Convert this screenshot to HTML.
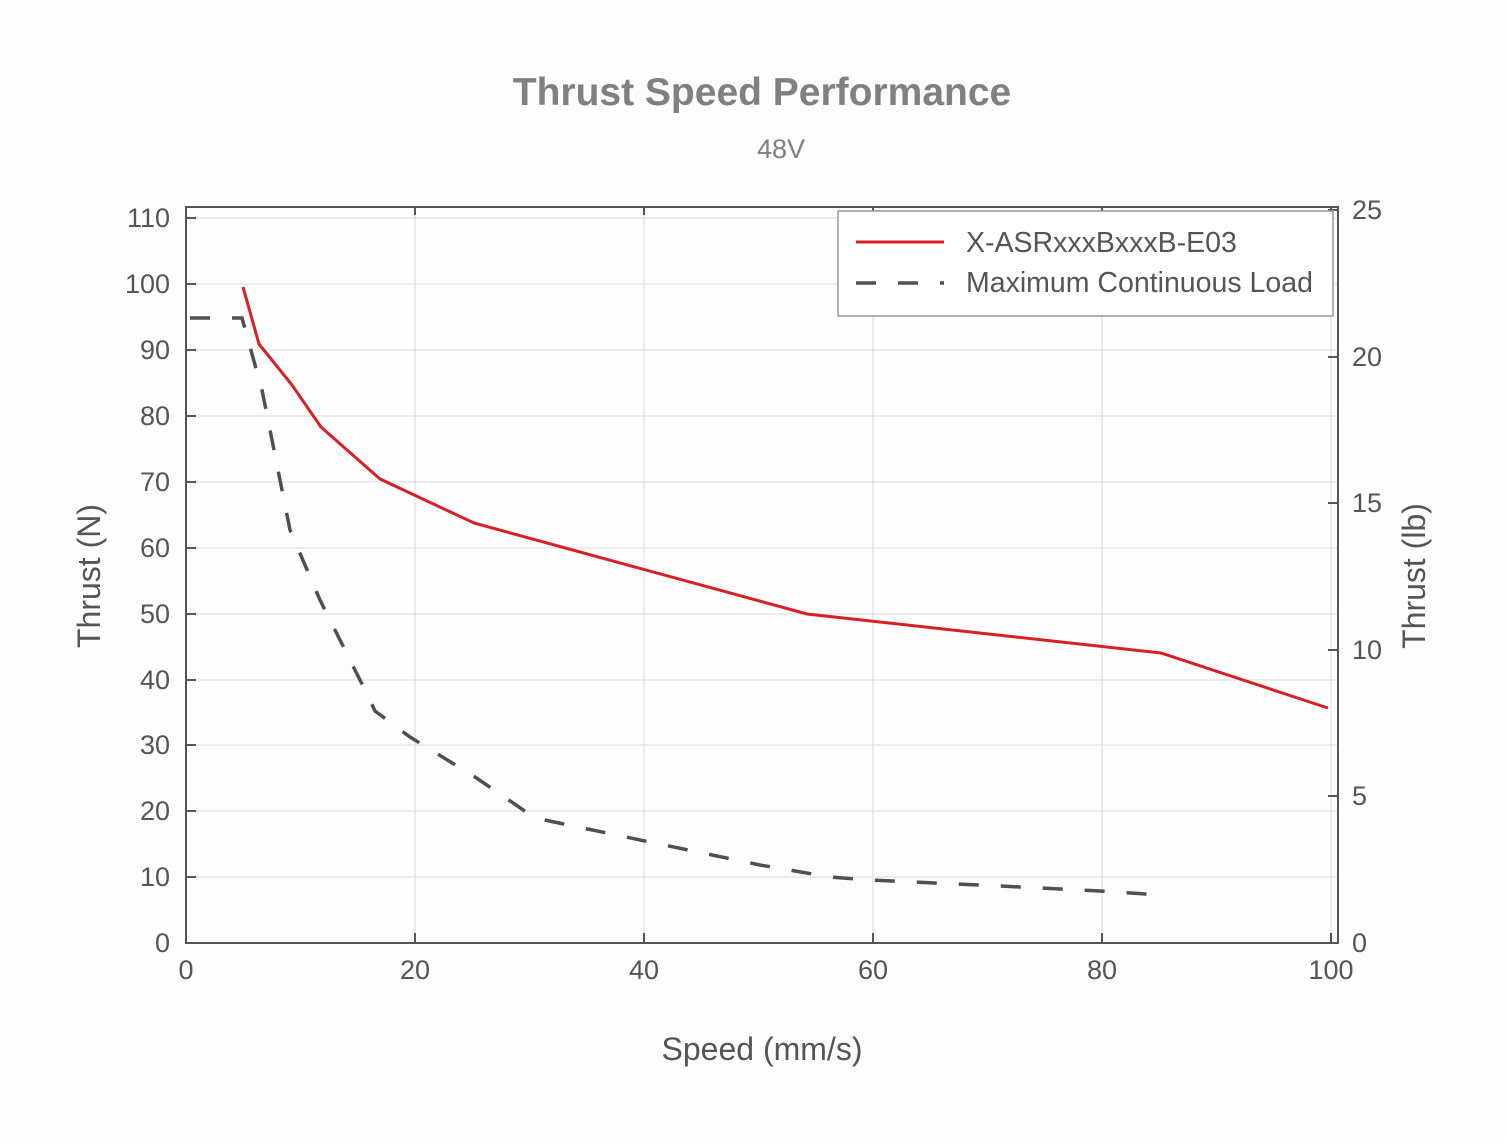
<!DOCTYPE html>
<html><head><meta charset="utf-8"><style>body{margin:0;background:#fdfdfd}svg{display:block}text{font-family:"Liberation Sans",sans-serif;fill:#555}</style></head>
<body>
<svg width="1508" height="1142" viewBox="0 0 1508 1142">
<rect width="1508" height="1142" fill="#fdfdfd"/>
<text x="762" y="105" text-anchor="middle" font-size="39" font-weight="bold" style="fill:#808080">Thrust Speed Performance</text>
<text x="781" y="158" text-anchor="middle" font-size="27" style="fill:#808080">48V</text>
<g stroke="#dcdcdc" stroke-width="1">
<line x1="415" y1="207" x2="415" y2="943"/><line x1="644" y1="207" x2="644" y2="943"/><line x1="873" y1="207" x2="873" y2="943"/><line x1="1102" y1="207" x2="1102" y2="943"/><line x1="1331" y1="207" x2="1331" y2="943"/>
<line x1="186" y1="218" x2="1338" y2="218"/><line x1="186" y1="284" x2="1338" y2="284"/><line x1="186" y1="350" x2="1338" y2="350"/><line x1="186" y1="416" x2="1338" y2="416"/><line x1="186" y1="482" x2="1338" y2="482"/><line x1="186" y1="548" x2="1338" y2="548"/><line x1="186" y1="614" x2="1338" y2="614"/><line x1="186" y1="680" x2="1338" y2="680"/><line x1="186" y1="745" x2="1338" y2="745"/><line x1="186" y1="811" x2="1338" y2="811"/><line x1="186" y1="877" x2="1338" y2="877"/>
</g>
<polyline fill="none" stroke="#d62024" stroke-width="3" points="243,287 259,344 292,385 321,427 380,479 474,523 807,614 1161,653 1328,708"/>
<polyline fill="none" stroke="#505050" stroke-width="3.5" stroke-dasharray="20,22" points="190,318 242,318 262,390 290,530 320,600 365,690 375,711 410,737 475,777 535,818 645,841 760,865 830,877 870,880 1000,886 1100,891 1160,895"/>
<rect x="186" y="207" width="1152" height="736" fill="none" stroke="#555" stroke-width="2"/>
<g stroke="#555" stroke-width="2">
<line x1="186" y1="218" x2="196" y2="218"/><line x1="186" y1="284" x2="196" y2="284"/><line x1="186" y1="350" x2="196" y2="350"/><line x1="186" y1="416" x2="196" y2="416"/><line x1="186" y1="482" x2="196" y2="482"/><line x1="186" y1="548" x2="196" y2="548"/><line x1="186" y1="614" x2="196" y2="614"/><line x1="186" y1="680" x2="196" y2="680"/><line x1="186" y1="745" x2="196" y2="745"/><line x1="186" y1="811" x2="196" y2="811"/><line x1="186" y1="877" x2="196" y2="877"/>
<line x1="415" y1="943" x2="415" y2="933"/><line x1="644" y1="943" x2="644" y2="933"/><line x1="873" y1="943" x2="873" y2="933"/><line x1="1102" y1="943" x2="1102" y2="933"/><line x1="1331" y1="943" x2="1331" y2="933"/>
<line x1="415" y1="207" x2="415" y2="215"/><line x1="644" y1="207" x2="644" y2="215"/><line x1="873" y1="207" x2="873" y2="215"/><line x1="1102" y1="207" x2="1102" y2="215"/><line x1="1331" y1="207" x2="1331" y2="215"/>
<line x1="1328" y1="210" x2="1338" y2="210"/><line x1="1328" y1="357" x2="1338" y2="357"/><line x1="1328" y1="503" x2="1338" y2="503"/><line x1="1328" y1="650" x2="1338" y2="650"/><line x1="1328" y1="796" x2="1338" y2="796"/>
</g>
<g font-size="27" text-anchor="end">
<text x="170" y="227">110</text><text x="170" y="293">100</text><text x="170" y="359">90</text><text x="170" y="425">80</text><text x="170" y="491">70</text><text x="170" y="557">60</text><text x="170" y="623">50</text><text x="170" y="689">40</text><text x="170" y="754">30</text><text x="170" y="820">20</text><text x="170" y="886">10</text><text x="170" y="952">0</text>
</g>
<g font-size="27" text-anchor="start">
<text x="1352" y="219">25</text><text x="1352" y="366">20</text><text x="1352" y="512">15</text><text x="1352" y="659">10</text><text x="1352" y="805">5</text><text x="1352" y="952">0</text>
</g>
<g font-size="27" text-anchor="middle">
<text x="186" y="979">0</text><text x="415" y="979">20</text><text x="644" y="979">40</text><text x="873" y="979">60</text><text x="1102" y="979">80</text><text x="1331" y="979">100</text>
</g>
<text x="762" y="1060" text-anchor="middle" font-size="32">Speed (mm/s)</text>
<text transform="translate(100,576) rotate(-90)" text-anchor="middle" font-size="32">Thrust (N)</text>
<text transform="translate(1425,576) rotate(-90)" text-anchor="middle" font-size="32">Thrust (lb)</text>
<rect x="838" y="211" width="495" height="105" fill="#fff" stroke="#999" stroke-width="1.5"/>
<line x1="856" y1="242" x2="944" y2="242" stroke="#d62024" stroke-width="3"/>
<line x1="856" y1="283" x2="944" y2="283" stroke="#505050" stroke-width="3.5" stroke-dasharray="20,22"/>
<text x="966" y="252" font-size="28.5">X-ASRxxxBxxxB-E03</text>
<text x="966" y="292" font-size="28.5">Maximum Continuous Load</text>
</svg>
</body></html>
